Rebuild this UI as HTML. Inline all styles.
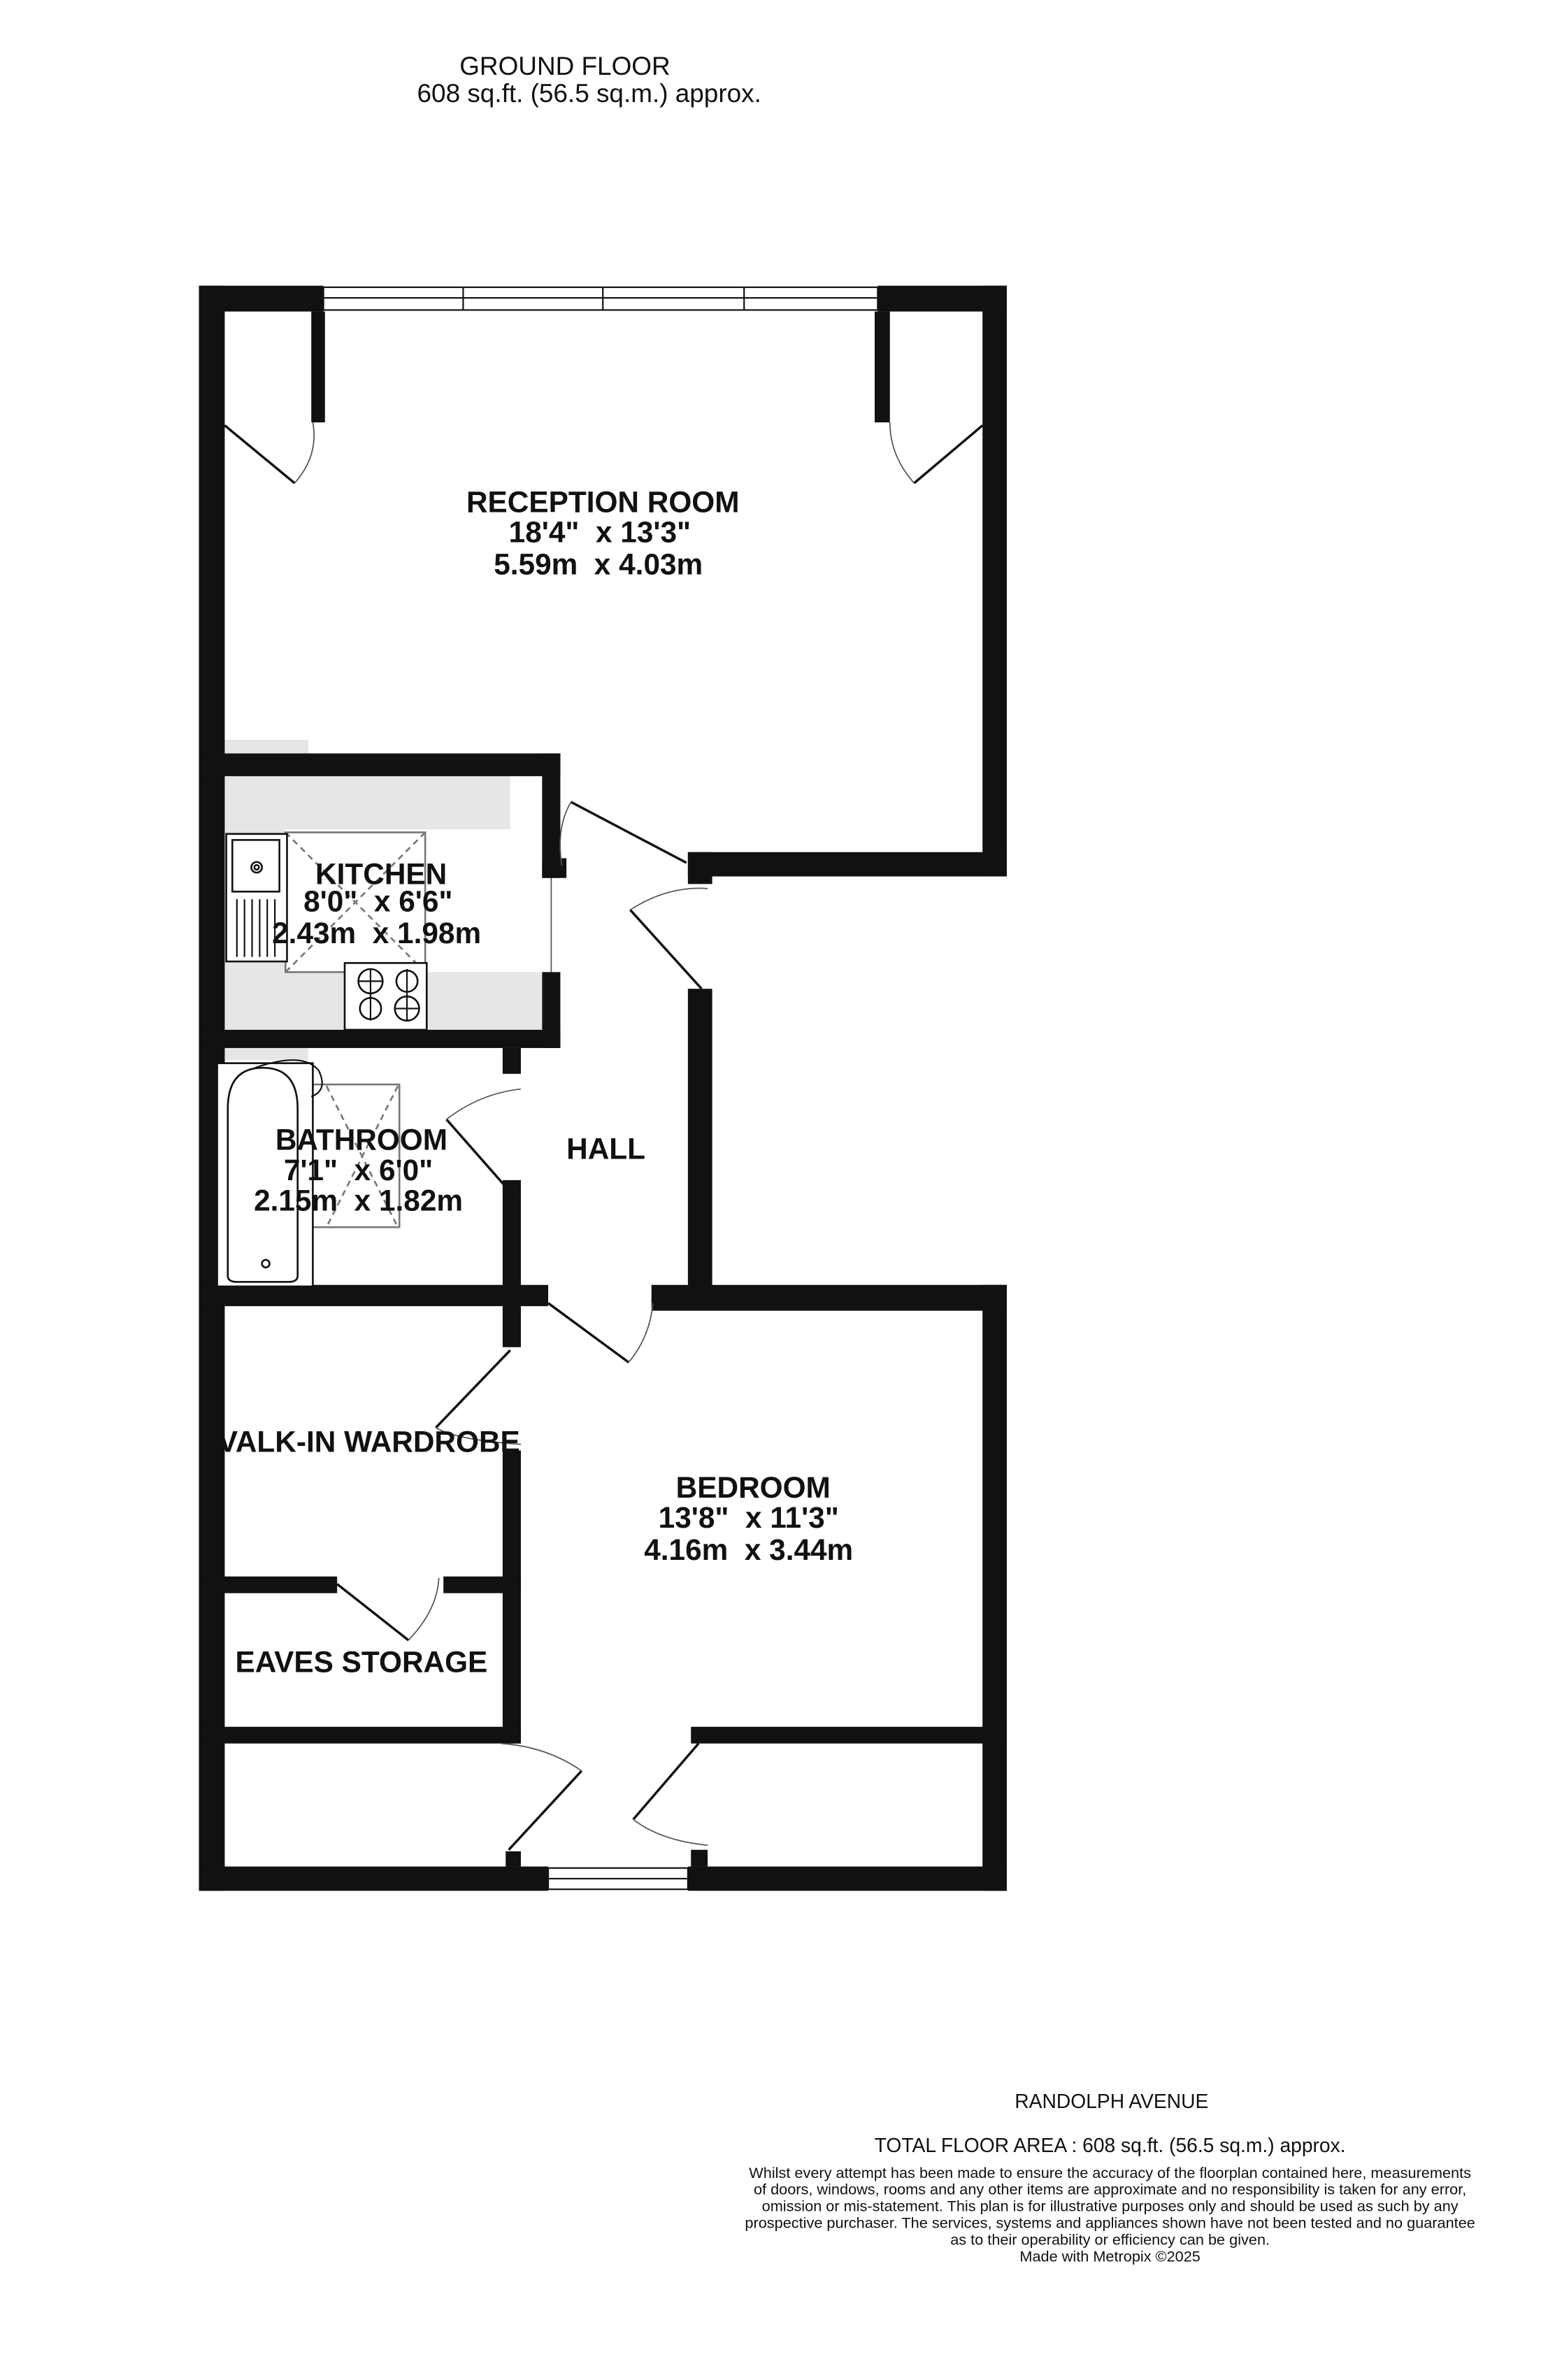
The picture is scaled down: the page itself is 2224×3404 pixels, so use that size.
<!DOCTYPE html>
<html><head><style>
html,body{margin:0;padding:0;background:#fff;}
svg{display:block;}
text{font-family:"Liberation Sans",Arial,sans-serif;fill:#111;white-space:pre;}
.b{font-weight:bold;font-size:19.5px;}
</style></head><body>
<svg width="2224" height="3404" viewBox="0 0 1024 1567" xmlns="http://www.w3.org/2000/svg" xml:space="preserve">
<rect width="1024" height="1567" fill="#fff"/>
<text x="372" y="49" font-size="17" text-anchor="middle">GROUND FLOOR</text>
<text x="388" y="67" font-size="17" text-anchor="middle">608 sq.ft. (56.5 sq.m.) approx.</text>

<g fill="#e6e6e6">
<rect x="148" y="487" width="55" height="10"/>
<rect x="148" y="511" width="188" height="35"/>
<rect x="148" y="546" width="40" height="94"/>
<rect x="148" y="640" width="209" height="38"/>
<rect x="148" y="690" width="55" height="8"/>
</g>

<g fill="#111">
<rect x="131" y="188" width="82" height="17"/>
<rect x="578" y="188" width="85" height="17"/>
<rect x="131" y="188" width="17" height="1057"/>
<rect x="647" y="188" width="16" height="389"/>
<rect x="205" y="205" width="9" height="73"/>
<rect x="576" y="205" width="10" height="73"/>
<rect x="453" y="561" width="210" height="16"/>
<rect x="453" y="561" width="16" height="21"/>
<rect x="131" y="496" width="238" height="15"/>
<rect x="357" y="496" width="12" height="82"/>
<rect x="357" y="565" width="16" height="13"/>
<rect x="357" y="640" width="12" height="50"/>
<rect x="131" y="678" width="238" height="12"/>
<rect x="453" y="651" width="16" height="209"/>
<rect x="331" y="690" width="12" height="17"/>
<rect x="331" y="777" width="12" height="110"/>
<rect x="131" y="846" width="230" height="14"/>
<rect x="429" y="846" width="234" height="17"/>
<rect x="647" y="846" width="16" height="399"/>
<rect x="331" y="955" width="12" height="193"/>
<rect x="131" y="1038" width="91" height="11"/>
<rect x="292" y="1038" width="51" height="11"/>
<rect x="131" y="1137" width="212" height="11"/>
<rect x="455" y="1137" width="208" height="11"/>
<rect x="131" y="1229" width="230" height="16"/>
<rect x="453" y="1229" width="210" height="16"/>
<rect x="333" y="1219" width="10" height="10"/>
<rect x="455" y="1218" width="11" height="11"/>
</g>

<g fill="none" stroke="#111" stroke-width="1">
<rect x="213" y="189" width="365" height="15"/>
<line x1="213" y1="196" x2="578" y2="196"/>
<line x1="305" y1="189" x2="305" y2="204"/>
<line x1="397" y1="189" x2="397" y2="204"/>
<line x1="490" y1="189" x2="490" y2="204"/>
<rect x="361" y="1230" width="92" height="14"/>
<line x1="361" y1="1237" x2="453" y2="1237"/>
</g>

<g fill="none" stroke="#111" stroke-width="1.6">
<line x1="148" y1="280" x2="194" y2="318"/>
<line x1="647" y1="280" x2="602" y2="318"/>
<line x1="376" y1="528" x2="452" y2="568"/>
<line x1="415" y1="599" x2="462" y2="651"/>
<line x1="294" y1="737" x2="338" y2="787"/>
<line x1="361" y1="858" x2="414" y2="897"/>
<line x1="336" y1="889" x2="287" y2="940"/>
<line x1="222" y1="1043" x2="269" y2="1080"/>
<line x1="383" y1="1166" x2="335" y2="1218"/>
<line x1="460" y1="1148" x2="417" y2="1198"/>
</g>
<g fill="none" stroke="#555" stroke-width="0.8">
<path d="M194 318 Q210 300 206 278"/>
<path d="M602 318 Q586 300 586 278"/>
<path d="M376 528 Q366 545 370 570"/>
<path d="M415 599 Q440 583 466 585"/>
<path d="M294 737 Q316 720 343 717"/>
<path d="M414 897 Q428 880 430 858"/>
<path d="M287 940 Q300 948 343 951"/>
<path d="M269 1080 Q288 1060 289 1039"/>
<path d="M383 1166 Q360 1150 330 1148"/>
<path d="M417 1198 Q435 1212 466 1215"/>
<line x1="363" y1="578" x2="363" y2="640"/>
</g>

<g fill="none" stroke="#777" stroke-width="1.2" stroke-dasharray="4,3">
<line x1="188" y1="548" x2="280" y2="640"/>
<line x1="280" y1="548" x2="188" y2="640"/>
<line x1="215" y1="715" x2="262" y2="808"/>
<line x1="262" y1="715" x2="215" y2="808"/>
</g>
<g fill="none" stroke="#777" stroke-width="1.2">
<rect x="188" y="548" width="92" height="92"/>
<rect x="205" y="714" width="58" height="94"/>
</g>
<g fill="#fff" stroke="#111" stroke-width="1.2">
<rect x="149" y="549" width="40" height="84"/>
<rect x="153" y="553" width="31" height="34" fill="none"/>
<circle cx="169" cy="571" r="3.5"/><circle cx="169" cy="571" r="1.5"/>
<rect x="227" y="634" width="54" height="44"/>
<circle cx="244" cy="646" r="8"/><circle cx="268" cy="646" r="7"/>
<circle cx="244" cy="664" r="7"/><circle cx="268" cy="664" r="8"/>
<rect x="143" y="700" width="63" height="147"/>
<path d="M150 840 L150 730 Q150 703 173 703 Q196 703 196 730 L196 840 Q196 844 190 844 L156 844 Q150 844 150 840 Z"/>
<circle cx="175" cy="832" r="2.5"/>
</g>
<g stroke="#111" stroke-width="1" fill="none">
<line x1="156" y1="592" x2="156" y2="630"/><line x1="161" y1="592" x2="161" y2="630"/>
<line x1="166" y1="592" x2="166" y2="630"/><line x1="171" y1="592" x2="171" y2="630"/>
<line x1="176" y1="592" x2="176" y2="630"/><line x1="181" y1="592" x2="181" y2="630"/>
<path d="M168 703 Q200 692 210 705 Q216 718 205 722"/>
<line x1="244" y1="638" x2="244" y2="672"/><line x1="236" y1="646" x2="252" y2="646"/>
<line x1="268" y1="638" x2="268" y2="672"/><line x1="260" y1="664" x2="276" y2="664"/>
</g>

<g text-anchor="middle">
<text class="b" x="397" y="337">RECEPTION ROOM</text>
<text class="b" x="395" y="357">18'4"  x 13'3"</text>
<text class="b" x="394" y="378">5.59m  x 4.03m</text>
<text class="b" x="251" y="582">KITCHEN</text>
<text class="b" x="249" y="600">8'0"  x 6'6"</text>
<text class="b" x="248" y="621">2.43m  x 1.98m</text>
<text class="b" x="238" y="757">BATHROOM</text>
<text class="b" x="236" y="777">7'1"  x 6'0"</text>
<text class="b" x="236" y="797">2.15m  x 1.82m</text>
<text class="b" x="399" y="763">HALL</text>
<text class="b" x="243" y="956">VALK-IN WARDROBE</text>
<text class="b" x="238" y="1101">EAVES STORAGE</text>
<text class="b" x="496" y="986">BEDROOM</text>
<text class="b" x="493" y="1006">13'8"  x 11'3"</text>
<text class="b" x="493" y="1027">4.16m  x 3.44m</text>
<text x="732" y="1388" font-size="13">RANDOLPH AVENUE</text>
<text x="731" y="1417" font-size="13">TOTAL FLOOR AREA : 608 sq.ft. (56.5 sq.m.) approx.</text>
<g font-size="10">
<text x="731" y="1434">Whilst every attempt has been made to ensure the accuracy of the floorplan contained here, measurements</text>
<text x="731" y="1445">of doors, windows, rooms and any other items are approximate and no responsibility is taken for any error,</text>
<text x="731" y="1456">omission or mis-statement. This plan is for illustrative purposes only and should be used as such by any</text>
<text x="731" y="1467">prospective purchaser. The services, systems and appliances shown have not been tested and no guarantee</text>
<text x="731" y="1478">as to their operability or efficiency can be given.</text>
<text x="731" y="1489">Made with Metropix ©2025</text>
</g>
</g>
</svg>
</body></html>
